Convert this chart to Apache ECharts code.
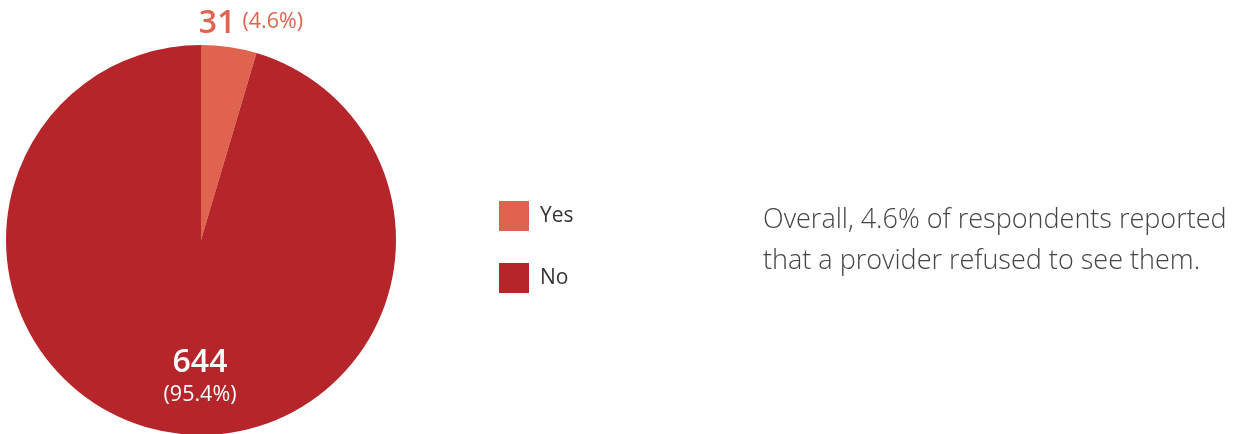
<!DOCTYPE html>
<html>
<head>
<meta charset="utf-8">
<script src="https://cdn.jsdelivr.net/npm/echarts@6/dist/echarts.min.js"></script>
<style>
  html, body { margin: 0; padding: 0; background: #fff; }
  #chart { width: 1236px; height: 434px; }
</style>
</head>
<body>
<div id="chart"></div>
<script>
const categories = ['Yes', 'No'];
const counts = [31, 644];
const percents = ['4.6%', '95.4%'];
const colors = ['#E0634F', '#B5252A'];
const noteLines = ['Overall, 4.6% of respondents reported', 'that a provider refused to see them.'];

const chart = echarts.init(document.getElementById('chart'));

const pieData = categories.map((name, i) => ({
    name: name,
    value: counts[i],
    pct: percents[i],
    itemStyle: {color: colors[i]},
    label: i === 0 ? {
        rich: {
            big: {fontSize: 32, fontWeight: 600, color: colors[0], fontFamily: 'Open Sans'},
            small: {fontSize: 21.5, color: colors[0], fontFamily: 'Open Sans', padding: [0, 0, 4, 7]}
        }
    } : {
        rich: {
            big: {fontSize: 32, fontWeight: 600, color: '#fff', fontFamily: 'Open Sans', lineHeight: 37},
            small: {fontSize: 21.5, color: '#fff', fontFamily: 'Open Sans', lineHeight: 26}
        }
    }
}));

const option = {
    animation: false,
    legend: {
        orient: 'vertical',
        left: 494,
        top: 196,
        icon: 'rect',
        itemWidth: 30,
        itemHeight: 30,
        itemGap: 32,
        data: categories,
        textStyle: {fontSize: 21, color: '#333', fontFamily: 'Open Sans', padding: [0, 0, 0, 6]}
    },
    graphic: noteLines.map((t, i) => ({
        type: 'text',
        left: 763,
        top: 207 + i * 41,
        style: {text: t, fontSize: 27, fill: '#444', fontFamily: 'Open Sans', fontWeight: 300}
    })),
    series: [{
        type: 'pie',
        center: [201, 240],
        radius: 195,
        startAngle: 90,
        clockwise: true,
        silent: true,
        data: pieData,
        label: {
            show: true,
            position: 'inside',
            align: 'center',
            formatter: (p) => p.dataIndex === 0
                ? '{big|' + p.value + '}{small|(' + p.data.pct + ')}'
                : '{big|' + p.value + '}\n{small|(' + p.data.pct + ')}'
        },
        labelLine: {show: false},
        labelLayout: (params) => params.dataIndex === 0
            ? {x: 251, y: 24, align: 'center', verticalAlign: 'middle'}
            : {x: 200, y: 376, align: 'center', verticalAlign: 'middle'}
    }]
};
chart.setOption(option);
</script>
</body>
</html>
